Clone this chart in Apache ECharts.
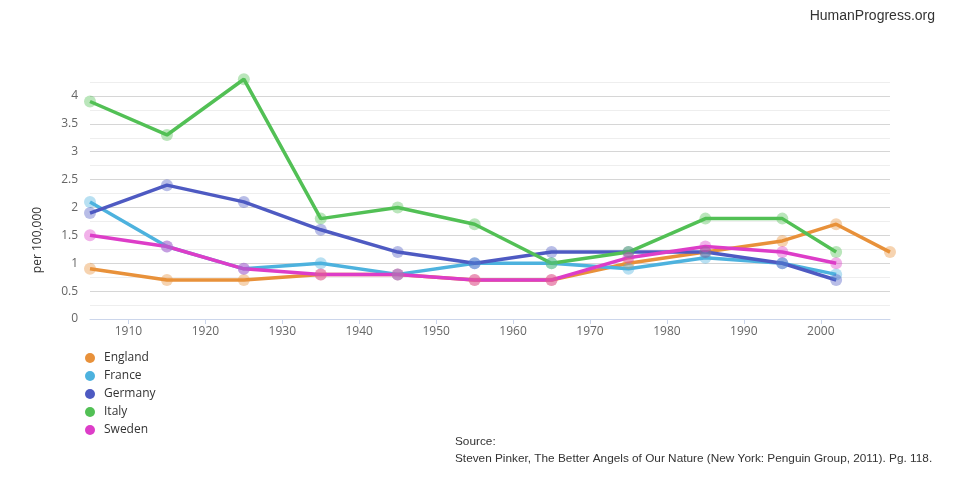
<!DOCTYPE html>
<html><head><meta charset="utf-8">
<script src="https://cdn.jsdelivr.net/npm/echarts@6/dist/echarts.min.js"></script>
<style>html,body{margin:0;padding:0;background:#fff}#c{width:970px;height:485px}</style>
</head><body><div id="c"></div>
<script>
const years = [1905, 1915, 1925, 1935, 1945, 1955, 1965, 1975, 1985, 1995, 2002];
const englandYears = [1905, 1915, 1925, 1935, 1945, 1955, 1965, 1975, 1985, 1995, 2002, 2009];
const england = [0.9, 0.7, 0.7, 0.8, 0.8, 0.7, 0.7, 1.0, 1.2, 1.4, 1.7, 1.2];
const france  = [2.1, 1.3, 0.9, 1.0, 0.8, 1.0, 1.0, 0.9, 1.1, 1.0, 0.8];
const germany = [1.9, 2.4, 2.1, 1.6, 1.2, 1.0, 1.2, 1.2, 1.2, 1.0, 0.7];
const italy   = [3.9, 3.3, 4.3, 1.8, 2.0, 1.7, 1.0, 1.2, 1.8, 1.8, 1.2];
const sweden  = [1.5, 1.3, 0.9, 0.8, 0.8, 0.7, 0.7, 1.1, 1.3, 1.2, 1.0];
const xTicks = [1910, 1920, 1930, 1940, 1950, 1960, 1970, 1980, 1990, 2000];
const names = ['England', 'France', 'Germany', 'Italy', 'Sweden'];
const colors = ['#E8913A', '#4DB2DE', '#4E5AC2', '#52C055', '#DD3DC8'];

const seriesData = [
  englandYears.map((y, i) => [y, england[i]]),
  years.map((y, i) => [y, france[i]]),
  years.map((y, i) => [y, germany[i]]),
  years.map((y, i) => [y, italy[i]]),
  years.map((y, i) => [y, sweden[i]])
];

const chart = echarts.init(document.getElementById('c'));
chart.setOption({
  animation: false,
  grid: { left: 90, right: 80, top: 82, bottom: 166 },
  xAxis: {
    type: 'value', min: 1905, max: 2009,
    axisLine: { show: true, lineStyle: { color: '#ccd6eb' } },
    axisTick: { show: true, length: 5, lineStyle: { color: '#ccd6eb' }, customValues: xTicks },
    axisLabel: { color: '#666', fontFamily: 'Open Sans', fontSize: 12, margin: 7, customValues: xTicks,
      formatter: v => String(v) },
    splitLine: { show: false }
  },
  yAxis: {
    type: 'value', min: 0, max: 4.25, interval: 0.25,
    axisLine: { show: false }, axisTick: { show: false },
    axisLabel: {
      color: '#666', fontFamily: 'Open Sans', fontSize: 12, margin: 12,
      formatter: v => (Math.abs(v * 2 - Math.round(v * 2)) < 1e-6 ? String(v) : '')
    },
    splitLine: { show: true, lineStyle: { color: ['#d6d6d6', '#eeeeee'], width: 1 } }
  },
  legend: {
    orient: 'vertical', left: 80, top: 347, itemGap: 6, itemWidth: 10, itemHeight: 10,
    icon: 'circle',
    textStyle: { color: '#333', fontFamily: 'Open Sans', fontSize: 12, padding: [0, 0, 0, 4] },
    data: names.map((n, i) => ({ name: n, itemStyle: { color: colors[i], opacity: 1 } }))
  },
  graphic: [
    { type: 'text', x: 38, y: 240, rotation: Math.PI / 2,
      style: { text: 'per 100,000', fill: '#333', font: '12px "Open Sans"', textAlign: 'center', textVerticalAlign: 'middle' } },
    { type: 'text', right: 35, top: 9,
      style: { text: 'HumanProgress.org', fill: '#333', font: '14px "Liberation Sans", Arial' } },
    { type: 'text', left: 455, top: 433,
      style: { text: 'Source:\nSteven Pinker, The Better Angels of Our Nature (New York: Penguin Group, 2011). Pg. 118.',
        fill: '#333', font: '11.8px "Liberation Sans", Arial', lineHeight: 17 } }
  ],
  series: names.map((n, i) => ({
    name: n, type: 'line', data: seriesData[i], clip: false,
    symbol: 'circle', symbolSize: 12, showSymbol: true,
    color: colors[i],
    lineStyle: { color: colors[i], width: 3.5 },
    itemStyle: { color: colors[i], opacity: 0.4, borderWidth: 0 },
    emphasis: { disabled: true }
  }))
});
</script></body></html>
